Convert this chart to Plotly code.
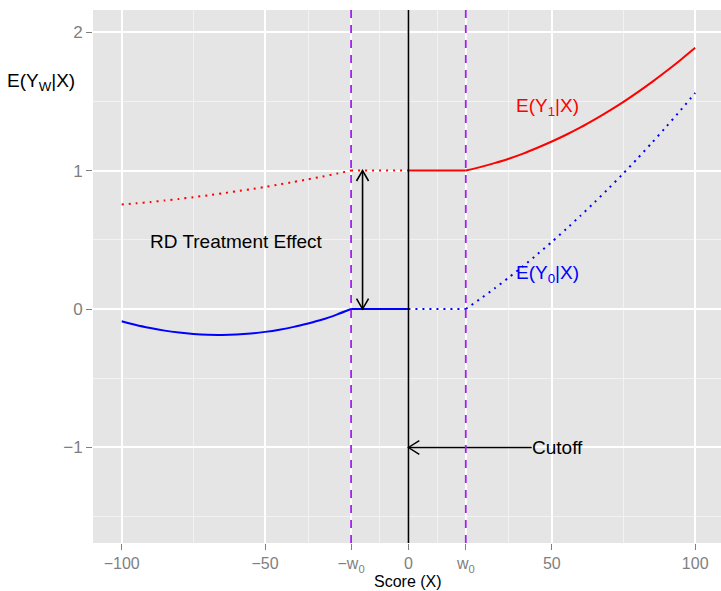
import plotly.graph_objects as go

# ---- data ----
x_left = [-100, -95, -90, -85, -80, -75, -70, -65, -60, -55, -50, -45, -40, -35, -30, -25, -20]
y1_left = [0.755, 0.764, 0.773, 0.784, 0.795, 0.808, 0.821, 0.835, 0.850, 0.865, 0.882, 0.900,
           0.918, 0.937, 0.957, 0.978, 1.000]
y0_left = [-0.088, -0.115, -0.137, -0.156, -0.170, -0.180, -0.186, -0.187, -0.184, -0.177, -0.165,
           -0.149, -0.129, -0.104, -0.076, -0.040, 0.000]

x_right = [20, 25, 30, 35, 40, 45, 50, 55, 60, 65, 70, 75, 80, 85, 90, 95, 100]
y1_right = [1.000, 1.025, 1.054, 1.086, 1.123, 1.165, 1.210, 1.259, 1.312, 1.370, 1.432, 1.497,
            1.567, 1.641, 1.719, 1.801, 1.887]
y0_right = [0.000, 0.073, 0.148, 0.228, 0.310, 0.396, 0.485, 0.578, 0.674, 0.773, 0.875, 0.981,
            1.090, 1.203, 1.319, 1.438, 1.561]

cutoff = 0
w0 = 20
flat_y1 = 1.0
flat_y0 = 0.0

rd_arrow_x = -16
cut_arrow_y = -1
cut_arrow_from = 43

tick_vals = [-100, -50, -20, 0, 20, 50, 100]
tick_text = ["\u2212100", "\u221250", "\u2212w<sub>0</sub>", "0", "w<sub>0</sub>", "50", "100"]
ytick_vals = [-1, 0, 1, 2]
ytick_text = ["\u22121", "0", "1", "2"]
x_minor = [-75, -35, -10, 10, 35, 75]
y_minor = [-1.5, -0.5, 0.5, 1.5]

RED = "#FF0000"
BLUE = "#0000FF"
PURPLE = "#A020F0"
FONT = "Liberation Sans, Arial, sans-serif"
LW = 2
DOT = "2px,5px"
SM = 0.6

fig = go.Figure()


def seg(x, y, color, dash=None, curved=True):
    line = dict(color=color, width=LW)
    if dash:
        line["dash"] = dash
    if curved:
        line["shape"] = "spline"
        line["smoothing"] = SM
    fig.add_trace(go.Scatter(x=x, y=y, mode="lines", line=line, showlegend=False,
                             hoverinfo="skip"))


# E(Y1|X): dotted left of cutoff, solid right
seg(x_left, y1_left, RED, DOT)
seg([-w0, cutoff], [flat_y1, flat_y1], RED, DOT, curved=False)
seg([cutoff, w0], [flat_y1, flat_y1], RED, curved=False)
seg(x_right, y1_right, RED)
# E(Y0|X): solid left of cutoff, dotted right
seg(x_left, y0_left, BLUE)
seg([-w0, cutoff], [flat_y0, flat_y0], BLUE, curved=False)
seg([cutoff, w0], [flat_y0, flat_y0], BLUE, DOT, curved=False)
seg(x_right, y0_right, BLUE, DOT)

# vertical reference lines
fig.add_shape(type="line", x0=cutoff, x1=cutoff, y0=0, y1=1, xref="x", yref="paper",
              line=dict(color="black", width=1.6), layer="above")
for xv in (-w0, w0):
    fig.add_shape(type="line", x0=xv, x1=xv, y0=0, y1=1, xref="x", yref="paper",
                  line=dict(color=PURPLE, width=1.8, dash="8px,7px"), layer="above")

# double-headed arrow (open heads)
hw_x = 2.1   # half width of head in x units
hl_y = 0.075  # head length in y units
ax = rd_arrow_x
fig.add_trace(go.Scatter(
    x=[ax, ax, None, ax - hw_x, ax, ax + hw_x, None, ax - hw_x, ax, ax + hw_x],
    y=[flat_y0, flat_y1, None, flat_y1 - hl_y, flat_y1, flat_y1 - hl_y, None,
       flat_y0 + hl_y, flat_y0, flat_y0 + hl_y],
    mode="lines", line=dict(color="black", width=1.6), showlegend=False))

# cutoff arrow
hl_x = 3.8
hw_y = 0.05
fig.add_trace(go.Scatter(
    x=[cut_arrow_from, cutoff, None, cutoff + hl_x, cutoff, cutoff + hl_x],
    y=[cut_arrow_y, cut_arrow_y, None, cut_arrow_y + hw_y, cut_arrow_y, cut_arrow_y - hw_y],
    mode="lines", line=dict(color="black", width=1.4), showlegend=False))

# text labels
ANN = 19
fig.add_annotation(x=-60, y=0.49, text="RD Treatment Effect", showarrow=False,
                   font=dict(family=FONT, size=ANN, color="black"))
fig.add_annotation(x=cut_arrow_from, y=cut_arrow_y, text="Cutoff", showarrow=False,
                   xanchor="left", xshift=-2, font=dict(family=FONT, size=ANN, color="black"))
fig.add_annotation(x=48.5, y=1.46, text="E(Y<sub>1</sub>|X)", showarrow=False,
                   font=dict(family=FONT, size=ANN, color=RED))
fig.add_annotation(x=48.5, y=0.25, text="E(Y<sub>0</sub>|X)", showarrow=False,
                   font=dict(family=FONT, size=ANN, color=BLUE))
# y axis title (horizontal, top-left)
fig.add_annotation(xref="paper", yref="paper", x=0, y=0.891, xanchor="right", xshift=-16,
                   text="E(Y<sub>W</sub>|X)", showarrow=False,
                   font=dict(family=FONT, size=19, color="black"))
# x axis title
fig.add_annotation(xref="x", yref="paper", x=cutoff, y=0, yanchor="top", yshift=-28,
                   text="Score (X)", showarrow=False,
                   font=dict(family=FONT, size=16, color="black"))

fig.update_layout(
    width=721, height=591,
    margin=dict(l=93, r=0, t=10, b=48),
    paper_bgcolor="white", plot_bgcolor="#E5E5E5",
    font=dict(family=FONT),
    xaxis=dict(range=[-110, 109], tickvals=tick_vals, ticktext=tick_text,
               showgrid=True, gridcolor="white", gridwidth=1.5, zeroline=False,
               ticks="outside", ticklen=6, tickcolor="#7F7F7F", tickwidth=1.2,
               tickfont=dict(family=FONT, size=16, color="#7F7F7F"),
               minor=dict(tickvals=x_minor, showgrid=True, gridcolor="#F2F2F2", gridwidth=0.8,
                          ticks="")),
    yaxis=dict(range=[-1.69, 2.16], tickvals=ytick_vals, ticktext=ytick_text,
               showgrid=True, gridcolor="white", gridwidth=1.5, zeroline=False,
               ticks="outside", ticklen=6, tickcolor="#7F7F7F", tickwidth=1.2,
               tickfont=dict(family=FONT, size=17, color="#7F7F7F"),
               minor=dict(tickvals=y_minor, showgrid=True, gridcolor="#F2F2F2", gridwidth=0.8,
                          ticks="")),
)

fig.write_html("out.html")
